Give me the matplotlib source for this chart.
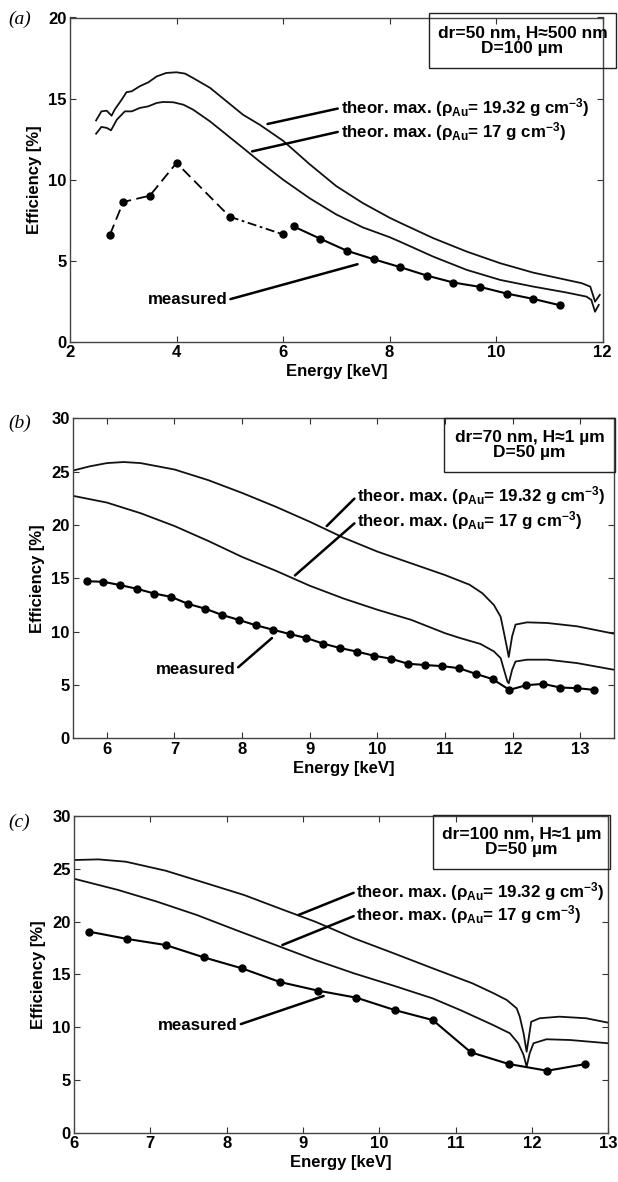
import matplotlib
matplotlib.use("Agg")
import matplotlib.pyplot as plt
from matplotlib.patches import Rectangle

plt.rcParams['font.family'] = ['Liberation Sans', 'DejaVu Sans']
plt.rcParams['font.weight'] = 'bold'
plt.rcParams['mathtext.fontset'] = 'custom'
plt.rcParams['mathtext.rm'] = 'Liberation Sans:bold'
plt.rcParams['mathtext.it'] = 'Liberation Sans:bold'
plt.rcParams['mathtext.bf'] = 'Liberation Sans:bold'

# ---- panel (a): dr=50 nm ----
a_theo_hi_E = [2.49, 2.59, 2.69, 2.78, 2.84, 2.97, 3.06, 3.16, 3.31, 3.47, 3.63, 3.81, 4.0, 4.16,
               4.31, 4.63, 4.94, 5.25, 5.56, 6.0, 6.5, 7.0, 7.5, 8.0, 8.19, 8.82, 9.45, 10.08,
               10.7, 11.33, 11.61, 11.77, 11.82, 11.86, 11.95]
a_theo_hi = [13.65, 14.21, 14.25, 13.94, 14.32, 14.93, 15.39, 15.45, 15.76, 16.0, 16.37, 16.58, 16.62, 16.54,
             16.27, 15.66, 14.83, 14.0, 13.39, 12.4, 10.95, 9.6, 8.55, 7.65, 7.35, 6.39, 5.56, 4.84,
             4.26, 3.81, 3.61, 3.4, 2.89, 2.47, 2.89]
a_theo_lo_E = [2.49, 2.59, 2.69, 2.77, 2.88, 3.03, 3.16, 3.31, 3.47, 3.63, 3.75, 3.94, 4.13, 4.31,
               4.63, 4.94, 5.25, 5.56, 6.0, 6.5, 7.0, 7.5, 8.0, 8.19, 8.82, 9.45, 10.08, 10.7,
               11.33, 11.7, 11.79, 11.86, 11.93]
a_theo_lo = [12.83, 13.25, 13.19, 13.04, 13.7, 14.21, 14.21, 14.42, 14.52, 14.73, 14.79, 14.77, 14.62, 14.32,
             13.59, 12.77, 11.95, 11.12, 10.0, 8.85, 7.85, 7.05, 6.45, 6.18, 5.25, 4.43, 3.81, 3.4,
             3.03, 2.78, 2.58, 1.85, 2.27]
a_meas_low_E = [2.75, 3.0, 3.5, 4.0, 5.0, 6.0]
a_meas_low = [6.6, 8.62, 9.01, 11.03, 7.71, 6.62]
a_meas_E = [6.2, 6.7, 7.2, 7.7, 8.2, 8.7, 9.2, 9.7, 10.2, 10.7, 11.2]
a_meas = [7.11, 6.35, 5.61, 5.09, 4.6, 4.08, 3.65, 3.38, 2.97, 2.64, 2.25]

# ---- panel (b): dr=70 nm ----
b_theo_hi_E = [5.5, 5.75, 6.0, 6.25, 6.5, 7.0, 7.5, 8.0, 8.5, 9.0, 9.5, 10.0, 10.5, 11.0, 11.36,
               11.55, 11.72, 11.82, 11.87, 11.92, 11.94, 11.99, 12.04, 12.21, 12.51, 12.95, 13.5]
b_theo_hi = [25.1, 25.5, 25.8, 25.9, 25.8, 25.2, 24.2, 23.0, 21.7, 20.3, 18.8, 17.5, 16.4, 15.3, 14.4,
             13.6, 12.5, 11.4, 9.87, 8.3, 7.62, 9.56, 10.66, 10.87, 10.81, 10.5, 9.8]
b_theo_lo_E = [5.5, 6.0, 6.5, 7.0, 7.5, 8.0, 8.5, 9.0, 9.5, 10.0, 10.5, 11.0, 11.22, 11.52, 11.72,
               11.82, 11.87, 11.92, 11.94, 11.99, 12.04, 12.21, 12.51, 12.95, 13.5]
b_theo_lo = [22.73, 22.1, 21.1, 19.9, 18.5, 17.0, 15.7, 14.3, 13.1, 12.05, 11.1, 9.85, 9.4, 8.85, 8.15,
             7.52, 6.42, 5.32, 5.16, 6.42, 7.2, 7.37, 7.37, 7.05, 6.42]
b_meas_E = [5.7, 5.95, 6.2, 6.45, 6.7, 6.95, 7.2, 7.45, 7.7, 7.95, 8.2, 8.45, 8.7, 8.95, 9.2, 9.45,
            9.7, 9.95, 10.2, 10.45, 10.7, 10.95, 11.2, 11.45, 11.7, 11.95, 12.2, 12.45, 12.7, 12.95, 13.2]
b_meas = [14.73, 14.67, 14.36, 14.01, 13.57, 13.26, 12.6, 12.16, 11.57, 11.1, 10.6, 10.19, 9.78, 9.4,
          8.87, 8.46, 8.12, 7.74, 7.46, 6.99, 6.87, 6.77, 6.58, 6.05, 5.55, 4.54, 4.98, 5.1, 4.76, 4.7, 4.54]

# ---- panel (c): dr=100 nm ----
c_theo_hi_E = [6.0, 6.32, 6.68, 7.2, 7.71, 8.23, 8.75, 9.16, 9.67, 10.19, 10.7, 11.22, 11.5, 11.67,
               11.8, 11.84, 11.89, 11.93, 11.99, 12.1, 12.36, 12.71, 13.0]
c_theo_hi = [25.83, 25.89, 25.67, 24.82, 23.68, 22.51, 21.09, 19.99, 18.41, 16.99, 15.57, 14.15, 13.2, 12.57,
             11.78, 10.99, 9.42, 7.67, 10.51, 10.84, 10.99, 10.84, 10.42]
c_theo_lo_E = [6.0, 6.58, 7.09, 7.61, 8.12, 8.64, 9.16, 9.67, 10.19, 10.7, 11.06, 11.49, 11.71, 11.82,
               11.89, 11.93, 11.97, 12.02, 12.19, 12.5, 13.0]
c_theo_lo = [24.06, 22.99, 21.88, 20.62, 19.2, 17.78, 16.36, 15.09, 13.92, 12.72, 11.62, 10.2, 9.42, 8.47,
             7.36, 6.25, 7.52, 8.47, 8.85, 8.78, 8.47]
c_meas_E = [6.2, 6.7, 7.2, 7.7, 8.2, 8.7, 9.2, 9.7, 10.2, 10.7, 11.2, 11.7, 12.2, 12.7]
c_meas = [19.04, 18.35, 17.78, 16.61, 15.57, 14.27, 13.45, 12.79, 11.62, 10.67, 7.61, 6.5, 5.87, 6.5]

label_hi = r'theor. max. ($\rho_{Au}$= 19.32 g cm$^{-3}$)'
label_lo = r'theor. max. ($\rho_{Au}$= 17 g cm$^{-3}$)'

W, H = 618, 1182
fig = plt.figure(figsize=(W / 100, H / 100), dpi=100)


def px_axes(x0, x1, y0, y1):
    return fig.add_axes([x0 / W, 1 - y1 / H, (x1 - x0) / W, (y1 - y0) / H])


def style(ax):
    ax.tick_params(direction='in', top=True, right=True, length=4, width=0.8,
                   labelsize=12, pad=2.5, colors='#333333', labelcolor='black')
    for s in ax.spines.values():
        s.set_color('#444444')
        s.set_linewidth(1.0)
    ax.set_xlabel('Energy [keV]', fontsize=12, fontweight='bold', labelpad=3)
    ax.set_ylabel('Efficiency [%]', fontsize=12, fontweight='bold', labelpad=4)


def info_box(x0, x1, y0, y1, text):
    fig.add_artist(Rectangle((x0 / W, 1 - y1 / H), (x1 - x0) / W, (y1 - y0) / H,
                             transform=fig.transFigure, fill=False, lw=1.0, ec='#222222'))
    fig.text((x0 + x1) / 2 / W, 1 - (y0 + y1) / 2 / H, text, ha='center', va='center',
             fontsize=12.5, fontweight='bold', linespacing=1.05)


def pointer(ax, text, tip, start, side='left'):
    ax.annotate(text, xy=tip, xytext=start, ha=side, va='center', fontsize=12.2,
                fontweight='bold',
                arrowprops=dict(arrowstyle='-', lw=1.8, color='black', shrinkA=0, shrinkB=0,
                                relpos=(0, 0.5) if side == 'left' else (1, 0.5)))


# panel a
ax = px_axes(70, 602.5, 17.5, 341.7)
ax.plot(a_theo_hi_E, a_theo_hi, color='#111111', lw=1.3)
ax.plot(a_theo_lo_E, a_theo_lo, color='#111111', lw=1.3)
ax.plot(a_meas_low_E[:5], a_meas_low[:5], color='black', lw=1.3, ls=(0, (6, 3)))
ax.plot(a_meas_low_E[4:], a_meas_low[4:], color='black', lw=1.3, ls=(0, (5, 2, 1.5, 2)))
ax.plot(a_meas_low_E, a_meas_low, ls='none', marker='o', ms=5, color='black')
ax.plot(a_meas_E, a_meas, color='black', lw=1.5, marker='o', ms=5)
ax.set_xlim(2, 12)
ax.set_ylim(0, 20)
ax.set_xticks(range(2, 13, 2))
ax.set_yticks(range(0, 21, 5))
style(ax)
pointer(ax, label_hi, (5.71, 13.43), (7.08, 14.42))
pointer(ax, label_lo, (5.42, 11.74), (7.08, 12.98))
pointer(ax, 'measured', (7.4, 4.78), (4.96, 2.58), side='right')
info_box(429, 616, 13, 68, 'dr=50 nm, H\u2248500 nm\nD=100 \u00b5m')

# panel b
ax = px_axes(73, 614.3, 418.3, 738.3)
ax.plot(b_theo_hi_E, b_theo_hi, color='#111111', lw=1.3)
ax.plot(b_theo_lo_E, b_theo_lo, color='#111111', lw=1.3)
ax.plot(b_meas_E, b_meas, color='black', lw=1.5, marker='o', ms=5)
ax.set_xlim(5.5, 13.5)
ax.set_ylim(0, 30)
ax.set_xticks(range(6, 14))
ax.set_yticks(range(0, 31, 5))
style(ax)
pointer(ax, label_hi, (9.25, 19.9), (9.7, 22.73))
pointer(ax, label_lo, (8.78, 15.27), (9.7, 20.38))
pointer(ax, 'measured', (8.44, 9.4), (7.9, 6.43), side='right')
info_box(444, 615, 418, 472, 'dr=70 nm, H\u22481 \u00b5m\nD=50 \u00b5m')

# panel c
ax = px_axes(74, 608.3, 816, 1132.7)
ax.plot(c_theo_hi_E, c_theo_hi, color='#111111', lw=1.3)
ax.plot(c_theo_lo_E, c_theo_lo, color='#111111', lw=1.3)
ax.plot(c_meas_E, c_meas, color='black', lw=1.5, marker='o', ms=5)
ax.set_xlim(6, 13)
ax.set_ylim(0, 30)
ax.set_xticks(range(6, 14))
ax.set_yticks(range(0, 31, 5))
style(ax)
pointer(ax, label_hi, (8.94, 20.62), (9.7, 22.83))
pointer(ax, label_lo, (8.73, 17.78), (9.7, 20.62))
pointer(ax, 'measured', (9.27, 12.95), (8.15, 10.2), side='right')
info_box(433, 610, 815, 869, 'dr=100 nm, H\u22481 \u00b5m\nD=50 \u00b5m')

for lab, y in [('(a)', 19), ('(b)', 423), ('(c)', 822)]:
    fig.text(8 / W, 1 - y / H, lab, family=['Liberation Serif', 'DejaVu Serif'], style='italic',
             fontweight='normal', fontsize=14, va='center', ha='left')

fig.savefig('out.png', dpi=100)
